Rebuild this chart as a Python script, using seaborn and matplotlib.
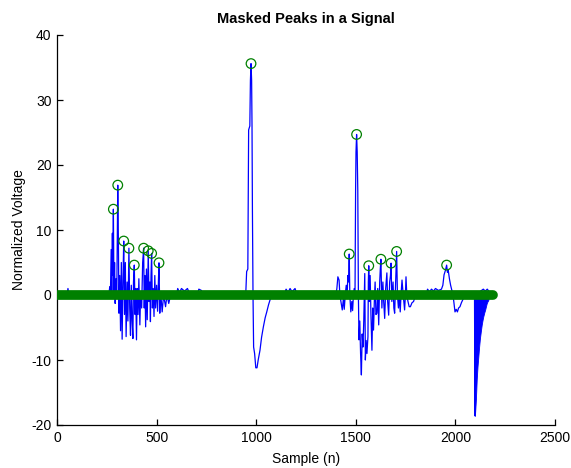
import numpy as np
import matplotlib
matplotlib.use("Agg")
import matplotlib.pyplot as plt
import seaborn as sns

# ---- data ----
sig_x = [0, 50, 55, 60, 260,
         265, 268, 272, 275, 278, 280, 283, 286, 289, 292, 296, 300, 305, 308, 311, 315,
         319, 323, 327, 331, 335, 339, 343, 347, 352, 356, 361, 365, 369, 373, 377, 381,
         384, 388, 392, 395, 399, 403, 407, 411, 416, 420, 425, 430, 435, 438, 441, 445,
         449, 453, 458, 462, 466, 469, 472, 475, 479, 483, 487, 491, 495, 500, 505, 508,
         512, 516, 520, 528, 535, 545, 552, 561, 570,
         600, 606, 615, 625, 640, 655, 668, 705, 712, 725, 732, 945,
         948, 952, 958, 962, 968, 971, 974, 977, 979, 981, 984, 987, 992, 998, 1004, 1010,
         1019, 1027, 1036, 1045, 1053, 1062, 1069, 1077,
         1140, 1150, 1160, 1170, 1180, 1195, 1205, 1400,
         1405, 1410, 1416, 1420, 1428, 1432, 1438, 1442, 1447, 1452, 1456, 1460, 1464, 1467,
         1470, 1475, 1480, 1484, 1488, 1492, 1496, 1499, 1501, 1504, 1507, 1510, 1513, 1516,
         1520, 1524, 1528, 1532, 1536, 1540, 1545, 1548, 1552, 1556, 1561, 1563, 1565, 1568,
         1572, 1576, 1581, 1585, 1589, 1593, 1597, 1601, 1606, 1610, 1615, 1620, 1623, 1626,
         1631, 1636, 1640, 1645, 1650, 1656, 1660, 1665, 1670, 1674, 1677, 1681, 1687, 1691,
         1695, 1700, 1705, 1709, 1714, 1718, 1723, 1727, 1732, 1738, 1745, 1749, 1752, 1756,
         1762, 1768, 1774, 1782, 1790, 1800, 1850,
         1855, 1860, 1870, 1880, 1890, 1900, 1915, 1930, 1937, 1943, 1950, 1956, 1960, 1964,
         1970, 1976, 1984, 1990, 1998, 2004, 2010, 2016, 2023, 2030, 2036, 2048, 2060, 2070,
         2085, 2096, 2098, 2100, 2140, 2150, 2160, 2170, 2178]
sig_y = [0, 0, 1.0, 0, 0,
         1.3, -0.3, 7.0, 0.5, 9.5, 3.0, 13.2, 0.0, 5.0, -1.3, 2.5, -0.5, 16.9, 9.0, -2.8, 3.0,
         -5.5, 5.0, -6.8, 2.0, 8.3, -3.0, 5.0, -6.4, 2.0, -4.0, 7.2, -2.0, -6.2, 1.5, -4.0, -6.7,
         2.0, 4.6, -3.0, 1.0, -6.9, 1.0, -3.0, 2.5, -4.6, 0.5, -2.0, 5.0, 7.2, -2.0, 3.0, -4.9,
         4.0, -3.8, 6.8, -1.0, 2.0, -4.1, 3.0, 6.4, -2.0, 1.0, -3.3, 3.0, -2.0, 1.5, -2.5, 1.0,
         4.95, -2.8, 0.5, -2.6, 0.0, -1.8, 0.0, -1.3, 0.0,
         0.0, 1.0, 0.4, 1.0, 0.6, 1.0, 0.0, 0.0, 0.9, 0.7, 0.0, 0.0,
         0.5, 3.6, 4.0, 25.4, 26.0, 33.0, 35.6, 33.0, 26.0, 13.2, 0.0, -8.0, -9.0, -11.2, -11.2, -10.0,
         -8.5, -6.5, -4.9, -3.5, -2.6, -1.5, -0.8, 0.0,
         0.0, 0.9, 0.4, 1.0, 0.5, 1.0, 0.0, 0.0,
         1.0, 2.8, 2.3, 0.0, -1.5, -2.3, -0.5, -2.2, 0.0, 1.5, -0.5, 3.0, 2.0, 6.3,
         0.0, -2.6, -1.0, -2.4, 0.0, 1.0, 0.0, 16.2, 22.0, 24.7, 22.0, 16.0, 0.0, -6.9,
         -4.0, -9.0, -12.3, -6.0, -8.0, -4.0, 3.3, -10.0, -7.0, -9.0, -6.4, 2.0, 4.5, -1.0,
         3.0, -3.0, -8.5, -2.0, -5.4, -1.0, 2.0, -3.0, -2.8, 1.0, -4.6, 2.0, 4.0, 5.5,
         -2.0, 2.0, -1.0, -3.6, 1.0, 3.4, -1.0, -3.1, 2.0, 3.0, 4.9, -1.0, 2.0, -2.0,
         -2.8, 2.0, 6.7, 0.0, -2.0, 0.0, -2.6, 0.0, 2.3, 0.0, -2.3, 0.0, 2.8, 0.0,
         -1.0, -1.8, -1.8, -1.2, -1.0, 0.0, 0.0,
         0.0, 0.9, 0.5, 0.9, 0.6, 1.0, 0.7, 0.9, 1.5, 3.1, 3.8, 4.6, 3.5, 3.8,
         2.5, 1.5, 0.5, -0.5, -2.6, -2.2, -2.6, -2.0, -1.8, -1.2, -0.8, 0.0, 0.5, 0.3,
         0.0, 0.0, -18.6, 0.0, 0.9, 0.6, 0.9, 0.5, 0.0]

# envelope of the dense negative burst near the end of the record
env_x = [2096, 2098, 2103, 2107, 2111, 2115, 2119, 2123, 2128, 2132, 2136, 2140,
         2145, 2149, 2153, 2157, 2161, 2165, 2170]
env_y = [0, -18.6, -16.0, -13.0, -11.0, -9.5, -8.0, -6.7, -5.5, -4.6, -3.9, -3.3,
         -2.7, -2.3, -1.8, -1.3, -1.0, -0.8, 0]

# masked (zeroed) samples span
mask_x = [0, 2188]
mask_y = [0, 0]

# detected peaks
peak_x = [283, 305, 335, 361, 388, 435, 458, 475, 512, 974,
          1467, 1504, 1565, 1626, 1677, 1705, 1956]
peak_y = [13.2, 16.9, 8.3, 7.2, 4.6, 7.2, 6.8, 6.4, 4.95, 35.6,
          6.3, 24.7, 4.5, 5.5, 4.9, 6.7, 4.6]

x_ticks = [0, 500, 1000, 1500, 2000, 2500]
y_ticks = [-20, -10, 0, 10, 20, 30, 40]

# ---- drawing ----
sns.set_theme(style="white")
plt.rcParams["font.family"] = ["Liberation Sans", "DejaVu Sans"]
plt.rcParams["text.color"] = "black"
plt.rcParams["axes.labelcolor"] = "black"

fig = plt.figure(figsize=(5.71, 4.68), dpi=100)
ax = fig.add_axes([57 / 571, 1 - 425 / 468, (555 - 57) / 571, (425 - 35) / 468])

blue = (0, 0, 1)
green = (0, 0.5, 0)

sns.lineplot(x=sig_x, y=sig_y, ax=ax, color=blue, linewidth=0.9,
             sort=False, estimator=None, zorder=2)
ax.fill_between(env_x, env_y, 0, color=blue, linewidth=0.6, zorder=2)
sns.lineplot(x=mask_x, y=mask_y, ax=ax, color=green, linewidth=7.0,
             solid_capstyle="round", sort=False, estimator=None, zorder=3)
sns.scatterplot(x=peak_x, y=peak_y, ax=ax, marker="o", s=48,
                facecolors="none", edgecolor=green, linewidth=0.9, zorder=4)

ax.set_xlim(0, 2500)
ax.set_ylim(-20, 40)
ax.set_xticks(x_ticks)
ax.set_yticks(y_ticks)
ax.set_xticklabels([str(v) for v in x_ticks])
ax.set_yticklabels([str(v) for v in y_ticks])

for side in ["top", "right"]:
    ax.spines[side].set_visible(False)
for side in ["left", "bottom"]:
    ax.spines[side].set_color("black")
    ax.spines[side].set_linewidth(0.9)

ax.tick_params(axis="both", direction="in", length=4, width=0.9, colors="black",
               labelsize=10, pad=4, bottom=True, left=True)

ax.set_title("Masked Peaks in a Signal", fontsize=10.5, fontweight="bold",
             pad=9, color="black")
ax.set_xlabel("Sample (n)", fontsize=10, labelpad=5, color="black")
ax.set_ylabel("Normalized Voltage", fontsize=10, labelpad=4, color="black")
ax.grid(False)

fig.savefig("out.png", dpi=100)
